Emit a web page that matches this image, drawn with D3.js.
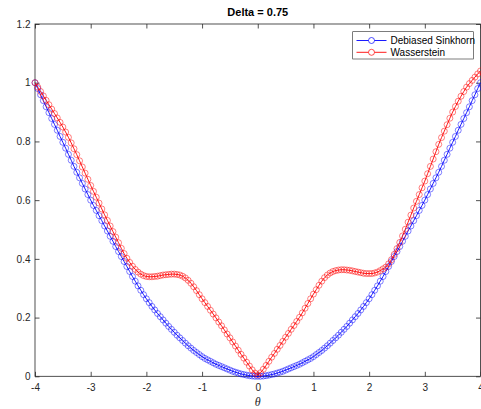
<!DOCTYPE html>
<html><head><meta charset="utf-8">
<script src="https://cdn.jsdelivr.net/npm/d3@7/dist/d3.min.js"></script>
<style>body{margin:0;background:#fff;overflow:hidden}</style>
</head><body><svg id="c" width="481" height="409"></svg>
<script>
const theta = [
-4.00,-3.95,-3.90,-3.85,-3.80,-3.75,-3.70,-3.65,-3.60,-3.55,
-3.50,-3.45,-3.40,-3.35,-3.30,-3.25,-3.20,-3.15,-3.10,-3.05,
-3.00,-2.95,-2.90,-2.85,-2.80,-2.75,-2.70,-2.65,-2.60,-2.55,
-2.50,-2.45,-2.40,-2.35,-2.30,-2.25,-2.20,-2.15,-2.10,-2.05,
-2.00,-1.95,-1.90,-1.85,-1.80,-1.75,-1.70,-1.65,-1.60,-1.55,
-1.50,-1.45,-1.40,-1.35,-1.30,-1.25,-1.20,-1.15,-1.10,-1.05,
-1.00,-0.95,-0.90,-0.85,-0.80,-0.75,-0.70,-0.65,-0.60,-0.55,
-0.50,-0.45,-0.40,-0.35,-0.30,-0.25,-0.20,-0.15,-0.10,-0.05,
0.00,0.05,0.10,0.15,0.20,0.25,0.30,0.35,0.40,0.45,
0.50,0.55,0.60,0.65,0.70,0.75,0.80,0.85,0.90,0.95,
1.00,1.05,1.10,1.15,1.20,1.25,1.30,1.35,1.40,1.45,
1.50,1.55,1.60,1.65,1.70,1.75,1.80,1.85,1.90,1.95,
2.00,2.05,2.10,2.15,2.20,2.25,2.30,2.35,2.40,2.45,
2.50,2.55,2.60,2.65,2.70,2.75,2.80,2.85,2.90,2.95,
3.00,3.05,3.10,3.15,3.20,3.25,3.30,3.35,3.40,3.45,
3.50,3.55,3.60,3.65,3.70,3.75,3.80,3.85,3.90,3.95,
4.00];

const debiasedSinkhorn = [
1.000,0.980,0.959,0.939,0.918,0.898,0.878,0.858,0.838,0.817,
0.797,0.777,0.756,0.736,0.715,0.695,0.676,0.657,0.638,0.619,
0.600,0.582,0.565,0.547,0.530,0.512,0.495,0.477,0.460,0.442,
0.425,0.408,0.391,0.374,0.357,0.340,0.324,0.308,0.293,0.278,
0.264,0.251,0.238,0.226,0.214,0.203,0.192,0.181,0.170,0.160,
0.150,0.140,0.131,0.122,0.113,0.104,0.096,0.088,0.081,0.074,
0.067,0.061,0.056,0.051,0.046,0.041,0.037,0.033,0.029,0.025,
0.021,0.017,0.014,0.011,0.008,0.006,0.004,0.002,0.001,0.000,
0.000,0.000,0.001,0.002,0.004,0.006,0.008,0.011,0.014,0.017,
0.021,0.025,0.029,0.033,0.037,0.041,0.046,0.051,0.056,0.061,
0.067,0.074,0.081,0.088,0.096,0.104,0.113,0.122,0.131,0.140,
0.150,0.160,0.170,0.181,0.192,0.203,0.214,0.226,0.238,0.251,
0.264,0.278,0.293,0.308,0.324,0.340,0.357,0.374,0.391,0.408,
0.425,0.442,0.460,0.477,0.495,0.512,0.530,0.547,0.565,0.582,
0.600,0.619,0.638,0.657,0.676,0.695,0.715,0.736,0.756,0.777,
0.797,0.817,0.838,0.858,0.878,0.898,0.918,0.939,0.959,0.980,
1.000];

const wasserstein = [
1.000,0.985,0.970,0.955,0.940,0.925,0.910,0.895,0.880,0.865,
0.849,0.832,0.814,0.795,0.775,0.755,0.734,0.713,0.692,0.671,
0.650,0.630,0.610,0.590,0.570,0.550,0.531,0.512,0.493,0.474,
0.455,0.436,0.418,0.402,0.388,0.375,0.364,0.355,0.348,0.343,
0.340,0.339,0.339,0.340,0.341,0.343,0.345,0.346,0.347,0.348,
0.348,0.347,0.345,0.341,0.335,0.327,0.317,0.305,0.292,0.278,
0.264,0.251,0.238,0.225,0.212,0.199,0.185,0.172,0.158,0.144,
0.131,0.117,0.103,0.089,0.075,0.062,0.048,0.035,0.022,0.011,
0.005,0.012,0.024,0.037,0.051,0.065,0.078,0.092,0.105,0.119,
0.133,0.146,0.160,0.173,0.187,0.201,0.216,0.232,0.248,0.264,
0.280,0.295,0.310,0.324,0.336,0.345,0.352,0.357,0.360,0.362,
0.363,0.363,0.362,0.361,0.359,0.357,0.355,0.353,0.351,0.350,
0.350,0.350,0.352,0.355,0.360,0.366,0.372,0.383,0.397,0.415,
0.435,0.456,0.478,0.501,0.525,0.549,0.573,0.596,0.619,0.642,
0.665,0.690,0.715,0.740,0.765,0.790,0.813,0.835,0.857,0.879,
0.900,0.919,0.937,0.954,0.970,0.985,0.997,1.008,1.019,1.030,
1.040];

const xTicks = [-4,-3,-2,-1,0,1,2,3,4];
const yTicks = [0,0.2,0.4,0.6,0.8,1,1.2];
const seriesNames = ["Debiased Sinkhorn","Wasserstein"];
const seriesColors = ["#0000ff","#ff0000"];
const titleText = "Delta = 0.75";
const xLabelText = "θ";

const svg = d3.select("#c");
const L = 35, R = 480.5, T = 24, B = 376.3;
const axisColor = "#262626";
const font = "'Liberation Sans', Arial, Helvetica, sans-serif";

const x = d3.scaleLinear().domain([-4, 4]).range([L, R]);
const y = d3.scaleLinear().domain([0, 1.2]).range([B, T]);

function styleAxis(g) {
  g.select(".domain").remove();
  g.selectAll(".tick line").attr("stroke", axisColor).attr("stroke-width", 0.8);
  g.selectAll(".tick text").attr("fill", axisColor).style("font-family", font).style("font-size", "10px");
}

svg.append("g").attr("transform", `translate(0,${B})`)
  .call(d3.axisBottom(x).tickValues(xTicks).tickSizeInner(-4.5).tickSizeOuter(0).tickPadding(7.6).tickFormat(d => String(d)))
  .call(styleAxis);
svg.append("g").attr("transform", `translate(0,${T})`)
  .call(d3.axisTop(x).tickValues(xTicks).tickSizeInner(-4.5).tickSizeOuter(0).tickFormat(""))
  .call(styleAxis);
svg.append("g").attr("transform", `translate(${L},0)`)
  .call(d3.axisLeft(y).tickValues(yTicks).tickSizeInner(-4.5).tickSizeOuter(0).tickPadding(4.5).tickFormat(d => String(d)))
  .call(styleAxis);
svg.append("g").attr("transform", `translate(${R},0)`)
  .call(d3.axisRight(y).tickValues(yTicks).tickSizeInner(-4.5).tickSizeOuter(0).tickFormat(""))
  .call(styleAxis);

// box
svg.append("rect").attr("x", L).attr("y", T).attr("width", R - L).attr("height", B - T)
  .attr("fill", "none").attr("stroke", axisColor).attr("stroke-width", 0.8);

const series = [debiasedSinkhorn, wasserstein];
const line = d3.line().x((d, i) => x(theta[i])).y(d => y(d));

series.forEach((vals, s) => {
  const g = svg.append("g");
  g.append("path").datum(vals).attr("d", line)
    .attr("fill", "none").attr("stroke", seriesColors[s]).attr("stroke-width", 0.9);
  g.selectAll("circle").data(vals).enter().append("circle")
    .attr("cx", (d, i) => x(theta[i])).attr("cy", d => y(d)).attr("r", 3)
    .attr("fill", "none").attr("stroke", seriesColors[s]).attr("stroke-width", 0.5);
});

// title
svg.append("text").attr("x", (L + R) / 2).attr("y", 16).attr("text-anchor", "middle")
  .style("font-family", font).style("font-size", "11px").style("font-weight", "bold")
  .attr("fill", "#000").text(titleText);

// x label
svg.append("text").attr("x", (L + R) / 2).attr("y", 405.5).attr("text-anchor", "middle")
  .style("font-family", "'Liberation Serif', 'DejaVu Serif', serif").style("font-style", "italic")
  .style("font-size", "12px").attr("fill", axisColor).text(xLabelText);

// legend
const lg = svg.append("g");
lg.append("rect").attr("x", 352.7).attr("y", 31.7).attr("width", 120.6).attr("height", 27.3)
  .attr("fill", "#fff").attr("stroke", axisColor).attr("stroke-width", 0.6);
const rowY = [40.5, 52.3];
seriesNames.forEach((name, s) => {
  lg.append("line").attr("x1", 356.5).attr("x2", 386.5).attr("y1", rowY[s]).attr("y2", rowY[s])
    .attr("stroke", seriesColors[s]).attr("stroke-width", 0.9);
  lg.append("circle").attr("cx", 371.5).attr("cy", rowY[s]).attr("r", 3)
    .attr("fill", "#fff").attr("stroke", seriesColors[s]).attr("stroke-width", 0.7);
  lg.append("text").attr("x", 390.5).attr("y", rowY[s] + 3.6)
    .style("font-family", font).style("font-size", "10px").attr("fill", "#000").text(name);
});
</script>
</body></html>
